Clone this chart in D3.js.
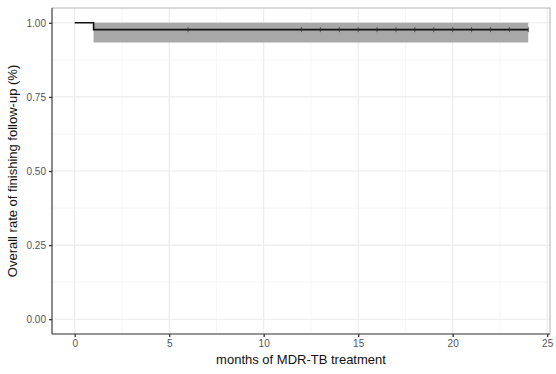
<!DOCTYPE html>
<html>
<head>
<meta charset="utf-8">
<script src="https://cdn.jsdelivr.net/npm/d3@7"></script>
<style>
  body { margin: 0; background: #fff; }
  text { font-family: "Liberation Sans", Arial, sans-serif; }
</style>
</head>
<body>
<div id="chart"></div>
<script>
// step curve: time (months) and survival estimate
var stepTimes = [0, 1, 24];
var stepSurv = [1.0, 0.977, 0.977];
// confidence band after the drop
var bandTimes = [1, 24];
var bandLower = [0.934, 0.934];
var bandUpper = [1.0, 1.0];
// censoring marks
var censorTimes = [6, 12, 13, 14, 15, 16, 17, 18, 19, 20, 21, 22, 23, 24];
var xTicks = [0, 5, 10, 15, 20, 25];
var yTicks = [0, 0.25, 0.5, 0.75, 1.0];

var width = 556, height = 374;
var margin = { top: 8, right: 6, bottom: 40, left: 52 };
var panelW = width - margin.left - margin.right;
var panelH = height - margin.top - margin.bottom;

var svg = d3.select('#chart')
    .append('svg')
        .attr('width', width)
        .attr('height', height);

var x = d3.scaleLinear()
    .domain([-1.2, 25.15])
    .range([0, panelW]);
var y = d3.scaleLinear()
    .domain([-0.05, 1.05])
    .range([panelH, 0]);

var g = svg.append('g')
    .attr('transform', 'translate(' + margin.left + ',' + margin.top + ')');

// minor grid
var xMinor = [2.5, 7.5, 12.5, 17.5, 22.5];
var yMinor = [0.125, 0.375, 0.625, 0.875];
g.selectAll('.xminor').data(xMinor).enter().append('line')
    .attr('x1', function(d) { return x(d); })
    .attr('x2', function(d) { return x(d); })
    .attr('y1', 0).attr('y2', panelH)
    .attr('stroke', '#f0f0f0').attr('stroke-width', 0.6);
g.selectAll('.yminor').data(yMinor).enter().append('line')
    .attr('y1', function(d) { return y(d); })
    .attr('y2', function(d) { return y(d); })
    .attr('x1', 0).attr('x2', panelW)
    .attr('stroke', '#f0f0f0').attr('stroke-width', 0.6);

// major grid
g.selectAll('.xmajor').data(xTicks).enter().append('line')
    .attr('x1', function(d) { return x(d); })
    .attr('x2', function(d) { return x(d); })
    .attr('y1', 0).attr('y2', panelH)
    .attr('stroke', '#ebebeb').attr('stroke-width', 1.1);
g.selectAll('.ymajor').data(yTicks).enter().append('line')
    .attr('y1', function(d) { return y(d); })
    .attr('y2', function(d) { return y(d); })
    .attr('x1', 0).attr('x2', panelW)
    .attr('stroke', '#ebebeb').attr('stroke-width', 1.1);

// confidence band
var band = bandTimes.map(function(t, i) {
  return { t: t, lo: bandLower[i], hi: bandUpper[i] };
});
g.append('path')
    .datum(band)
    .attr('fill', '#a8a8a8')
    .attr('d', d3.area()
        .curve(d3.curveStepAfter)
        .x(function(d) { return x(d.t); })
        .y0(function(d) { return y(d.lo); })
        .y1(function(d) { return y(d.hi); }));

// survival step line
var steps = stepTimes.map(function(t, i) { return { t: t, s: stepSurv[i] }; });
g.append('path')
    .datum(steps)
    .attr('fill', 'none')
    .attr('stroke', '#111')
    .attr('stroke-width', 1.6)
    .attr('d', d3.line()
        .curve(d3.curveStepAfter)
        .x(function(d) { return x(d.t); })
        .y(function(d) { return y(d.s); }));

// censor ticks
g.selectAll('.censor').data(censorTimes).enter().append('line')
    .attr('x1', function(d) { return x(d); })
    .attr('x2', function(d) { return x(d); })
    .attr('y1', y(0.977) - 2.5)
    .attr('y2', y(0.977) + 2.5)
    .attr('stroke', '#333')
    .attr('stroke-width', 0.8);

// panel border
g.append('rect')
    .attr('x', 0).attr('y', 0)
    .attr('width', panelW).attr('height', panelH)
    .attr('fill', 'none')
    .attr('stroke', '#b3b3b3')
    .attr('stroke-width', 1);

// axes
var xAxis = g.append('g')
    .attr('transform', 'translate(0,' + panelH + ')')
    .call(d3.axisBottom(x).tickValues(xTicks).tickSize(3).tickPadding(3)
        .tickFormat(d3.format('d')));
var yAxis = g.append('g')
    .call(d3.axisLeft(y).tickValues(yTicks).tickSize(3).tickPadding(3)
        .tickFormat(d3.format('.2f')));

[xAxis, yAxis].forEach(function(a) {
  a.select('.domain')
      .attr('stroke', '#555')
      .attr('stroke-width', 1.2);
  a.selectAll('.tick line')
      .attr('stroke', '#333')
      .attr('stroke-width', 1.3);
  a.selectAll('.tick text')
      .attr('fill', '#555')
      .style('font-size', '10px');
});
xAxis.select('.domain').attr('d', 'M0,0H' + panelW);
yAxis.select('.domain').attr('d', 'M0,0V' + panelH);

// axis titles
svg.append('text')
    .attr('x', margin.left + panelW / 2)
    .attr('y', 364)
    .attr('text-anchor', 'middle')
    .attr('fill', '#111')
    .style('font-size', '13px')
    .text('months of MDR-TB treatment');

svg.append('text')
    .attr('transform', 'translate(17,' + (margin.top + panelH / 2) + ') rotate(-90)')
    .attr('text-anchor', 'middle')
    .attr('fill', '#111')
    .style('font-size', '13px')
    .text('Overall rate of finishing follow-up (%)');
</script>
</body>
</html>
